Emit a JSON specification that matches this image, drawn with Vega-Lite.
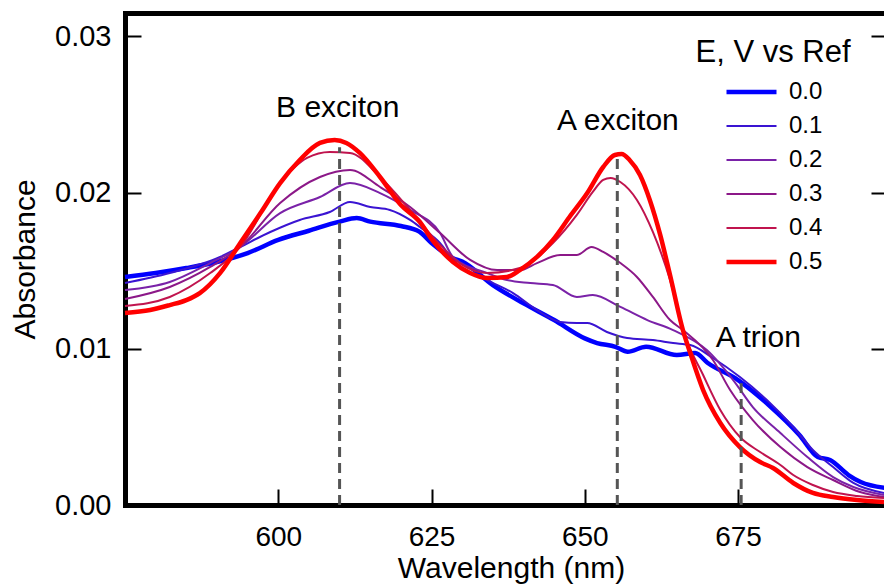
{
  "$schema": "https://vega.github.io/schema/vega-lite/v6.json",
  "width": 759,
  "height": 492,
  "autosize": {"type": "none"},
  "padding": {"left": 125, "top": 13, "right": 0, "bottom": 83},
  "background": "white",
  "config": {
    "view": {"stroke": null},
    "font": "Liberation Sans",
    "axis": {
      "grid": false,
      "domainColor": "black",
      "domainWidth": 5,
      "domainCap": "square",
      "tickColor": "black",
      "tickWidth": 2,
      "labelFont": "Liberation Sans",
      "titleFont": "Liberation Sans",
      "labelColor": "black",
      "titleColor": "black",
      "titleFontWeight": "normal"
    }
  },
  "datasets": {
    "spectra": [
      {"E":"0.0","wl":575.0,"A":0.01460},{"E":"0.0","wl":580.0,"A":0.01485},{"E":"0.0","wl":585.0,"A":0.01517},{"E":"0.0","wl":590.0,"A":0.01556},{"E":"0.0","wl":595.0,"A":0.01613},{"E":"0.0","wl":600.0,"A":0.01697},{"E":"0.0","wl":605.0,"A":0.01756},{"E":"0.0","wl":610.0,"A":0.01814},{"E":"0.0","wl":612.8,"A":0.01837},{"E":"0.0","wl":615.0,"A":0.01814},{"E":"0.0","wl":620.0,"A":0.01786},{"E":"0.0","wl":623.0,"A":0.01750},{"E":"0.0","wl":625.0,"A":0.01677},{"E":"0.0","wl":628.5,"A":0.01580},{"E":"0.0","wl":630.0,"A":0.01558},{"E":"0.0","wl":635.0,"A":0.01408},{"E":"0.0","wl":640.0,"A":0.01291},{"E":"0.0","wl":645.0,"A":0.01184},{"E":"0.0","wl":650.0,"A":0.01067},{"E":"0.0","wl":652.0,"A":0.01037},{"E":"0.0","wl":655.0,"A":0.01013},{"E":"0.0","wl":657.0,"A":0.00981},{"E":"0.0","wl":660.0,"A":0.01013},{"E":"0.0","wl":665.0,"A":0.00960},{"E":"0.0","wl":668.0,"A":0.00973},{"E":"0.0","wl":670.0,"A":0.00911},{"E":"0.0","wl":675.0,"A":0.00800},{"E":"0.0","wl":680.0,"A":0.00640},{"E":"0.0","wl":685.0,"A":0.00448},{"E":"0.0","wl":688.0,"A":0.00307},{"E":"0.0","wl":690.0,"A":0.00288},{"E":"0.0","wl":693.0,"A":0.00192},{"E":"0.0","wl":695.0,"A":0.00147},{"E":"0.0","wl":699.0,"A":0.00109},

      {"E":"0.1","wl":575.0,"A":0.01421},{"E":"0.1","wl":582.3,"A":0.01485},{"E":"0.1","wl":590.5,"A":0.01588},{"E":"0.1","wl":593.8,"A":0.01652},{"E":"0.1","wl":598.7,"A":0.01748},{"E":"0.1","wl":603.5,"A":0.01825},{"E":"0.1","wl":608.4,"A":0.01876},{"E":"0.1","wl":611.7,"A":0.01940},{"E":"0.1","wl":615.0,"A":0.01908},{"E":"0.1","wl":618.2,"A":0.01889},{"E":"0.1","wl":621.5,"A":0.01825},{"E":"0.1","wl":623.1,"A":0.01780},{"E":"0.1","wl":626.4,"A":0.01677},{"E":"0.1","wl":628.5,"A":0.01569},{"E":"0.1","wl":634.1,"A":0.01440},{"E":"0.1","wl":638.3,"A":0.01357},{"E":"0.1","wl":642.2,"A":0.01248},{"E":"0.1","wl":646.0,"A":0.01172},{"E":"0.1","wl":648.7,"A":0.01165},{"E":"0.1","wl":650.4,"A":0.01165},{"E":"0.1","wl":653.6,"A":0.01108},{"E":"0.1","wl":656.9,"A":0.01069},{"E":"0.1","wl":661.1,"A":0.01056},{"E":"0.1","wl":664.4,"A":0.01037},{"E":"0.1","wl":667.2,"A":0.01024},{"E":"0.1","wl":670.9,"A":0.00941},{"E":"0.1","wl":675.3,"A":0.00819},{"E":"0.1","wl":679.7,"A":0.00672},{"E":"0.1","wl":684.0,"A":0.00499},{"E":"0.1","wl":687.2,"A":0.00352},{"E":"0.1","wl":690.5,"A":0.00243},{"E":"0.1","wl":693.8,"A":0.00141},{"E":"0.1","wl":698.8,"A":0.00077},

      {"E":"0.2","wl":575.0,"A":0.01376},{"E":"0.2","wl":582.3,"A":0.01428},{"E":"0.2","wl":588.9,"A":0.01549},{"E":"0.2","wl":593.8,"A":0.01652},{"E":"0.2","wl":600.3,"A":0.01869},{"E":"0.2","wl":606.8,"A":0.01972},{"E":"0.2","wl":611.7,"A":0.02061},{"E":"0.2","wl":616.6,"A":0.01997},{"E":"0.2","wl":621.5,"A":0.01889},{"E":"0.2","wl":626.4,"A":0.01741},{"E":"0.2","wl":628.5,"A":0.01588},{"E":"0.2","wl":634.1,"A":0.01485},{"E":"0.2","wl":637.3,"A":0.01440},{"E":"0.2","wl":641.1,"A":0.01421},{"E":"0.2","wl":644.8,"A":0.01408},{"E":"0.2","wl":648.7,"A":0.01332},{"E":"0.2","wl":651.3,"A":0.01344},{"E":"0.2","wl":655.8,"A":0.01268},{"E":"0.2","wl":660.2,"A":0.01184},{"E":"0.2","wl":664.4,"A":0.01120},{"E":"0.2","wl":669.9,"A":0.00992},{"E":"0.2","wl":674.2,"A":0.00800},{"E":"0.2","wl":677.4,"A":0.00627},{"E":"0.2","wl":681.9,"A":0.00461},{"E":"0.2","wl":686.3,"A":0.00307},{"E":"0.2","wl":690.5,"A":0.00179},{"E":"0.2","wl":693.8,"A":0.00115},{"E":"0.2","wl":698.8,"A":0.00064},

      {"E":"0.3","wl":575.0,"A":0.01319},{"E":"0.3","wl":582.3,"A":0.01396},{"E":"0.3","wl":588.9,"A":0.01524},{"E":"0.3","wl":593.8,"A":0.01652},{"E":"0.3","wl":600.3,"A":0.01933},{"E":"0.3","wl":606.8,"A":0.02100},{"E":"0.3","wl":611.7,"A":0.02145},{"E":"0.3","wl":616.6,"A":0.02036},{"E":"0.3","wl":621.5,"A":0.01908},{"E":"0.3","wl":626.4,"A":0.01741},{"E":"0.3","wl":631.3,"A":0.01569},{"E":"0.3","wl":635.7,"A":0.01504},{"E":"0.3","wl":639.4,"A":0.01504},{"E":"0.3","wl":642.2,"A":0.01549},{"E":"0.3","wl":646.0,"A":0.01601},{"E":"0.3","wl":648.7,"A":0.01601},{"E":"0.3","wl":651.1,"A":0.01652},{"E":"0.3","wl":653.0,"A":0.01620},{"E":"0.3","wl":655.8,"A":0.01549},{"E":"0.3","wl":658.5,"A":0.01460},{"E":"0.3","wl":661.1,"A":0.01332},{"E":"0.3","wl":663.9,"A":0.01184},{"E":"0.3","wl":666.0,"A":0.01120},{"E":"0.3","wl":670.9,"A":0.00928},{"E":"0.3","wl":673.7,"A":0.00736},{"E":"0.3","wl":677.4,"A":0.00544},{"E":"0.3","wl":681.9,"A":0.00371},{"E":"0.3","wl":686.3,"A":0.00243},{"E":"0.3","wl":690.5,"A":0.00160},{"E":"0.3","wl":694.9,"A":0.00083},{"E":"0.3","wl":698.8,"A":0.00051},

      {"E":"0.4","wl":575.0,"A":0.01274},{"E":"0.4","wl":582.3,"A":0.01332},{"E":"0.4","wl":588.9,"A":0.01485},{"E":"0.4","wl":593.8,"A":0.01652},{"E":"0.4","wl":600.3,"A":0.02061},{"E":"0.4","wl":604.7,"A":0.02222},{"E":"0.4","wl":608.4,"A":0.02260},{"E":"0.4","wl":611.7,"A":0.02254},{"E":"0.4","wl":616.6,"A":0.02100},{"E":"0.4","wl":621.5,"A":0.01889},{"E":"0.4","wl":626.4,"A":0.01665},{"E":"0.4","wl":630.0,"A":0.01537},{"E":"0.4","wl":634.1,"A":0.01485},{"E":"0.4","wl":639.4,"A":0.01517},{"E":"0.4","wl":644.8,"A":0.01677},{"E":"0.4","wl":648.7,"A":0.01857},{"E":"0.4","wl":651.3,"A":0.02004},{"E":"0.4","wl":653.0,"A":0.02081},{"E":"0.4","wl":654.2,"A":0.02094},{"E":"0.4","wl":655.8,"A":0.02068},{"E":"0.4","wl":658.5,"A":0.01953},{"E":"0.4","wl":661.1,"A":0.01748},{"E":"0.4","wl":663.9,"A":0.01440},{"E":"0.4","wl":666.0,"A":0.01120},{"E":"0.4","wl":669.3,"A":0.00832},{"E":"0.4","wl":672.1,"A":0.00608},{"E":"0.4","wl":675.3,"A":0.00435},{"E":"0.4","wl":678.6,"A":0.00339},{"E":"0.4","wl":681.9,"A":0.00256},{"E":"0.4","wl":684.0,"A":0.00192},{"E":"0.4","wl":687.2,"A":0.00128},{"E":"0.4","wl":690.5,"A":0.00083},{"E":"0.4","wl":694.4,"A":0.00058},{"E":"0.4","wl":698.8,"A":0.00045},

      {"E":"0.5","wl":575.0,"A":0.01229},{"E":"0.5","wl":579.1,"A":0.01248},{"E":"0.5","wl":582.3,"A":0.01280},{"E":"0.5","wl":585.0,"A":0.01312},{"E":"0.5","wl":587.2,"A":0.01357},{"E":"0.5","wl":590.5,"A":0.01485},{"E":"0.5","wl":593.8,"A":0.01677},{"E":"0.5","wl":597.1,"A":0.01869},{"E":"0.5","wl":600.3,"A":0.02061},{"E":"0.5","wl":603.5,"A":0.02209},{"E":"0.5","wl":606.8,"A":0.02318},{"E":"0.5","wl":609.2,"A":0.02337},{"E":"0.5","wl":611.1,"A":0.02318},{"E":"0.5","wl":613.3,"A":0.02254},{"E":"0.5","wl":616.6,"A":0.02100},{"E":"0.5","wl":620.0,"A":0.01921},{"E":"0.5","wl":623.1,"A":0.01812},{"E":"0.5","wl":625.1,"A":0.01697},{"E":"0.5","wl":628.5,"A":0.01556},{"E":"0.5","wl":631.3,"A":0.01485},{"E":"0.5","wl":634.1,"A":0.01453},{"E":"0.5","wl":637.3,"A":0.01460},{"E":"0.5","wl":639.4,"A":0.01504},{"E":"0.5","wl":642.2,"A":0.01588},{"E":"0.5","wl":644.8,"A":0.01697},{"E":"0.5","wl":647.5,"A":0.01844},{"E":"0.5","wl":650.4,"A":0.01997},{"E":"0.5","wl":653.0,"A":0.02164},{"E":"0.5","wl":654.9,"A":0.02241},{"E":"0.5","wl":656.0,"A":0.02247},{"E":"0.5","wl":657.3,"A":0.02209},{"E":"0.5","wl":659.0,"A":0.02113},{"E":"0.5","wl":660.6,"A":0.01953},{"E":"0.5","wl":662.3,"A":0.01729},{"E":"0.5","wl":663.9,"A":0.01472},{"E":"0.5","wl":666.0,"A":0.01120},{"E":"0.5","wl":667.2,"A":0.00973},{"E":"0.5","wl":669.3,"A":0.00736},{"E":"0.5","wl":672.1,"A":0.00525},{"E":"0.5","wl":675.3,"A":0.00371},{"E":"0.5","wl":678.6,"A":0.00275},{"E":"0.5","wl":680.7,"A":0.00237},{"E":"0.5","wl":684.0,"A":0.00141},{"E":"0.5","wl":687.2,"A":0.00077},{"E":"0.5","wl":690.5,"A":0.00051},{"E":"0.5","wl":694.4,"A":0.00032},{"E":"0.5","wl":698.8,"A":0.00019}
    ],
    "markers": [
      {"name":"B exciton","wl":610.0,"bottom":0,"top":0.0229},
      {"name":"A exciton","wl":655.3,"bottom":0,"top":0.0223},
      {"name":"A trion","wl":675.5,"bottom":0,"top":0.0078}
    ],
    "labels": [
      {"label":"B exciton","wl":609.7,"A":0.02542},
      {"label":"A exciton","wl":655.4,"A":0.02458},
      {"label":"A trion","wl":678.3,"A":0.01069}
    ]
  },
  "layer": [
    {
      "data": {"name": "spectra"},
      "mark": {"type": "line", "interpolate": "monotone"},
      "encoding": {
        "x": {
          "field": "wl", "type": "quantitative",
          "scale": {"domain": [575, 698.8], "nice": false, "zero": false},
          "axis": {
            "orient": "bottom", "values": [600, 625, 650, 675], "format": "d",
            "tickSize": -16, "labelPadding": 34, "labelFontSize": 28,
            "title": "Wavelength (nm)", "titleFontSize": 30, "titlePadding": 2, "titleX": 386
          }
        },
        "y": {
          "field": "A", "type": "quantitative",
          "scale": {"domain": [0, 0.0315], "nice": false, "zero": false},
          "axis": {
            "orient": "left", "values": [0, 0.01, 0.02, 0.03], "format": ".2f",
            "tickSize": -16, "labelPadding": 30, "labelFontSize": 29,
            "title": "Absorbance", "titleFontSize": 30, "titlePadding": 14
          }
        },
        "color": {
          "field": "E", "type": "ordinal",
          "scale": {
            "domain": ["0.0", "0.1", "0.2", "0.3", "0.4", "0.5"],
            "range": ["#0000FF", "#3A14D2", "#7A22A8", "#8C1888", "#C0144E", "#FF0000"]
          },
          "legend": {
            "orient": "none", "legendX": 570, "legendY": 25,
            "title": "E, V vs Ref", "titleFontSize": 31, "titleFontWeight": "normal",
            "titleColor": "black", "titleFont": "Liberation Sans", "titleAnchor": "middle",
            "titlePadding": 6,
            "labelFontSize": 24, "labelColor": "black", "labelFont": "Liberation Sans",
            "labelOffset": 10,
            "symbolType": "stroke", "symbolSize": 2500, "clipHeight": 34, "rowPadding": 0
          }
        },
        "strokeWidth": {
          "field": "E", "type": "ordinal",
          "scale": {
            "type": "ordinal",
            "domain": ["0.0", "0.1", "0.2", "0.3", "0.4", "0.5"],
            "range": [4.5, 2, 2, 2, 2, 4.5]
          }
        }
      }
    },
    {
      "data": {"name": "markers"},
      "mark": {"type": "rule", "color": "#555555", "strokeWidth": 3, "strokeDash": [10, 6]},
      "encoding": {
        "x": {
          "field": "wl", "type": "quantitative",
          "axis": {"orient": "top", "ticks": false, "labels": false, "title": null, "domain": true}
        },
        "y": {
          "field": "bottom", "type": "quantitative",
          "axis": {"orient": "right", "domain": false, "labels": false, "title": null, "values": [0.01, 0.02, 0.03], "tickSize": -13}
        },
        "y2": {"field": "top"}
      }
    },
    {
      "data": {"name": "labels"},
      "mark": {"type": "text", "fontSize": 30, "font": "Liberation Sans", "color": "black", "baseline": "middle", "align": "center"},
      "encoding": {
        "x": {"field": "wl", "type": "quantitative", "axis": null},
        "y": {"field": "A", "type": "quantitative", "axis": null},
        "text": {"field": "label"}
      }
    }
  ]
}
